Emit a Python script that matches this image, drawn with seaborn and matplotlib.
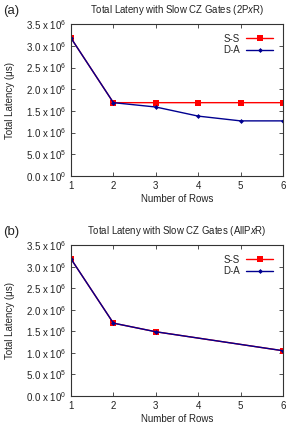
import numpy as np
import pandas as pd
import matplotlib
matplotlib.use("Agg")
import matplotlib.pyplot as plt
from matplotlib.ticker import FuncFormatter
import seaborn as sns

# Panel (a): 2PxR
rows_a = [1, 2, 3, 4, 5, 6]
ss_a = [3.18e6, 1.69e6, 1.69e6, 1.69e6, 1.69e6, 1.69e6]
da_a = [3.18e6, 1.69e6, 1.59e6, 1.38e6, 1.27e6, 1.27e6]

# Panel (b): AllPxR
rows_b = [1, 2, 3, 6]
ss_b = [3.18e6, 1.69e6, 1.49e6, 1.05e6]
da_b = [3.18e6, 1.69e6, 1.49e6, 1.05e6]

titles = ["Total Lateny with Slow CZ Gates (2P$x$R)",
          "Total Lateny with Slow CZ Gates (AllP$x$R)"]
panel_tags = ["(a)", "(b)"]
y_ticks = [0, 0.5e6, 1.0e6, 1.5e6, 2.0e6, 2.5e6, 3.0e6, 3.5e6]

sns.set_style("ticks")
plt.rcParams["font.family"] = ["Liberation Sans", "DejaVu Sans"]
plt.rcParams["mathtext.fontset"] = "custom"
plt.rcParams["mathtext.rm"] = "Liberation Sans"
plt.rcParams["mathtext.it"] = "Liberation Sans:italic"

RED = "#ff0000"
BLUE = "#000090"
FS = 7.0


def sci_fmt(v, pos):
    if v == 0:
        return r"0.0 x 10$^{0}$"
    e = int(np.floor(np.log10(v)))
    m = v / 10 ** e
    return r"%.1f x 10$^{%d}$" % (m, e)


fig = plt.figure(figsize=(2.88, 4.24), dpi=100)
ax_a = fig.add_axes([0.2465, 0.585, 0.736, 0.358])
ax_b = fig.add_axes([0.2465, 0.066, 0.736, 0.356])

data = [(ax_a, rows_a, ss_a, da_a), (ax_b, rows_b, ss_b, da_b)]
for i, (ax, rows, ss, da) in enumerate(data):
    df = pd.DataFrame({"rows": rows, "ss": ss, "da": da})
    sns.lineplot(data=df, x="rows", y="ss", ax=ax, color=RED, marker="s",
                 markersize=4, markeredgewidth=0, linewidth=1.0, label="S-S")
    sns.lineplot(data=df, x="rows", y="da", ax=ax, color=BLUE, marker="D",
                 markersize=2.5, markeredgewidth=0, linewidth=1.0, label="D-A")

    ax.set_xlim(1, 6)
    ax.set_ylim(0, 3.5e6)
    ax.set_xticks([1, 2, 3, 4, 5, 6])
    ax.set_yticks(y_ticks)
    ax.yaxis.set_major_formatter(FuncFormatter(sci_fmt))
    ax.tick_params(direction="in", length=3, width=0.6, labelsize=FS,
                   top=True, right=True, colors="#333333", labelcolor="#222222",
                   pad=3.5)
    for sp in ax.spines.values():
        sp.set_linewidth(0.8)
        sp.set_color("#333333")

    ax.set_xlabel("Number of Rows", fontsize=FS, color="#222222", labelpad=2.5)
    ax.set_ylabel("Total Latency (\u03bcs)", fontsize=FS, color="#222222",
                  labelpad=8)
    ax.set_title(titles[i], fontsize=6.9, color="#222222", pad=8)

    leg = ax.legend(loc="upper right", frameon=False, fontsize=FS,
                    markerfirst=False, handlelength=2.8, handletextpad=0.6,
                    labelspacing=0.15, borderaxespad=0.6)

fig.text(0.01, 0.988, panel_tags[0], fontsize=9.5, va="top", ha="left")
fig.text(0.01, 0.468, panel_tags[1], fontsize=9.5, va="top", ha="left")

fig.savefig("out.png", dpi=100)
